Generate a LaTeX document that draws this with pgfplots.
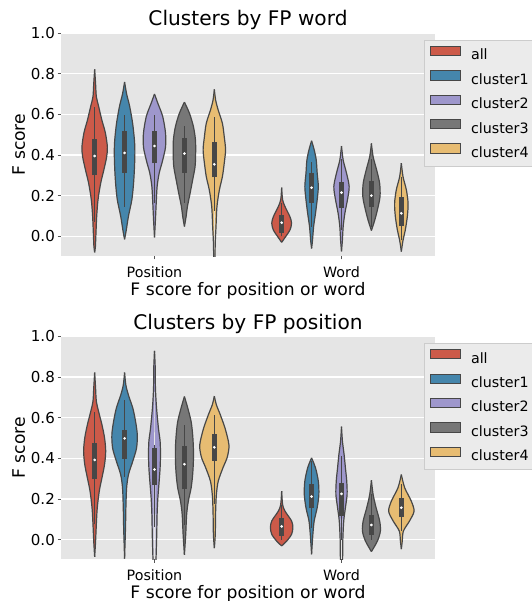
\documentclass[border=0pt]{standalone}
\usepackage{pgfplots}
\pgfplotsset{compat=1.18}
\usepackage{pgfplotstable}
\usepgfplotslibrary{fillbetween}
\usepackage{fontspec}
\setmainfont{DejaVu Sans}

\definecolor{cRed}{HTML}{CC5A49}
\definecolor{cBlue}{HTML}{4586AC}
\definecolor{cPurp}{HTML}{9E97CC}
\definecolor{cGray}{HTML}{777777}
\definecolor{cYel}{HTML}{E7BC72}
\definecolor{vedge}{HTML}{474747}
\definecolor{bgray}{HTML}{E5E5E5}
\definecolor{legfill}{HTML}{EBEBEB}
\definecolor{legedge}{HTML}{CCCCCC}
\definecolor{tickgray}{HTML}{555555}

% ---------- top chart: Clusters by FP word ----------
\pgfplotstableread[row sep=\\]{y w\\ -0.079 0\\ -0.05 0.004\\ 0.015 0.007\\ 0.10 0.011\\ 0.18 0.018\\ 0.26 0.032\\ 0.33 0.050\\ 0.39 0.064\\ 0.44 0.068\\ 0.51 0.057\\ 0.57 0.039\\ 0.64 0.021\\ 0.687 0.009\\ 0.75 0.005\\ 0.821 0\\}\tAa
\pgfplotstableread[row sep=\\]{y w\\ -0.015 0\\ 0.03 0.009\\ 0.10 0.021\\ 0.18 0.039\\ 0.26 0.048\\ 0.34 0.053\\ 0.41 0.055\\ 0.47 0.053\\ 0.556 0.043\\ 0.64 0.027\\ 0.70 0.011\\ 0.759 0\\}\tAb
\pgfplotstableread[row sep=\\]{y w\\ -0.005 0\\ 0.08 0.005\\ 0.16 0.009\\ 0.244 0.014\\ 0.31 0.025\\ 0.375 0.044\\ 0.44 0.059\\ 0.507 0.059\\ 0.589 0.044\\ 0.654 0.018\\ 0.70 0\\}\tAc
\pgfplotstableread[row sep=\\]{y w\\ 0.048 0\\ 0.097 0.009\\ 0.146 0.016\\ 0.21 0.030\\ 0.277 0.044\\ 0.343 0.057\\ 0.408 0.060\\ 0.474 0.059\\ 0.54 0.048\\ 0.605 0.027\\ 0.66 0\\}\tAd
\pgfplotstableread[row sep=\\]{y w\\ -0.12 0.003\\ -0.03 0.005\\ 0.048 0.009\\ 0.146 0.014\\ 0.228 0.027\\ 0.293 0.043\\ 0.36 0.053\\ 0.425 0.060\\ 0.49 0.053\\ 0.556 0.043\\ 0.62 0.021\\ 0.67 0.007\\ 0.723 0\\}\tAe
\pgfplotstableread[row sep=\\]{y w\\ -0.03 0\\ -0.002 0.021\\ 0.03 0.044\\ 0.064 0.053\\ 0.097 0.044\\ 0.146 0.018\\ 0.18 0.005\\ 0.239 0\\}\tBa
\pgfplotstableread[row sep=\\]{y w\\ -0.06 0\\ -0.02 0.005\\ 0.048 0.011\\ 0.113 0.021\\ 0.18 0.030\\ 0.244 0.036\\ 0.31 0.030\\ 0.375 0.025\\ 0.425 0.014\\ 0.47 0\\}\tBb
\pgfplotstableread[row sep=\\]{y w\\ -0.074 0\\ -0.018 0.005\\ 0.048 0.009\\ 0.113 0.018\\ 0.18 0.032\\ 0.244 0.041\\ 0.31 0.027\\ 0.375 0.009\\ 0.444 0\\}\tBc
\pgfplotstableread[row sep=\\]{y w\\ 0.028 0\\ 0.08 0.018\\ 0.13 0.032\\ 0.195 0.046\\ 0.26 0.044\\ 0.326 0.028\\ 0.392 0.009\\ 0.457 0\\}\tBd
\pgfplotstableread[row sep=\\]{y w\\ -0.075 0\\ -0.02 0.009\\ 0.03 0.021\\ 0.097 0.032\\ 0.162 0.036\\ 0.228 0.027\\ 0.293 0.009\\ 0.36 0\\}\tBe

% ---------- bottom chart: Clusters by FP position ----------
\pgfplotstableread[row sep=\\]{y w\\ -0.085 0\\ -0.007 0.005\\ 0.075 0.009\\ 0.157 0.014\\ 0.24 0.025\\ 0.304 0.039\\ 0.37 0.053\\ 0.435 0.059\\ 0.5 0.053\\ 0.565 0.039\\ 0.63 0.021\\ 0.68 0.009\\ 0.745 0.005\\ 0.822 0\\}\tCa
\pgfplotstableread[row sep=\\]{y w\\ -0.093 0\\ 0.06 0.005\\ 0.157 0.007\\ 0.255 0.011\\ 0.32 0.021\\ 0.386 0.044\\ 0.45 0.064\\ 0.516 0.068\\ 0.58 0.059\\ 0.647 0.044\\ 0.71 0.021\\ 0.76 0.007\\ 0.822 0\\}\tCb
\pgfplotstableread[row sep=\\]{y w\\ -0.12 0.007\\ -0.07 0.009\\ 0.026 0.012\\ 0.124 0.014\\ 0.206 0.018\\ 0.288 0.025\\ 0.353 0.030\\ 0.418 0.032\\ 0.484 0.030\\ 0.549 0.021\\ 0.647 0.011\\ 0.745 0.005\\ 0.843 0.004\\ 0.928 0\\}\tCc
\pgfplotstableread[row sep=\\]{y w\\ -0.075 0\\ 0.026 0.007\\ 0.124 0.012\\ 0.19 0.021\\ 0.255 0.036\\ 0.32 0.044\\ 0.386 0.048\\ 0.45 0.048\\ 0.516 0.044\\ 0.58 0.036\\ 0.647 0.018\\ 0.704 0\\}\tCd
\pgfplotstableread[row sep=\\]{y w\\ -0.042 0\\ 0.026 0.005\\ 0.14 0.007\\ 0.222 0.011\\ 0.288 0.021\\ 0.353 0.046\\ 0.402 0.068\\ 0.45 0.078\\ 0.484 0.075\\ 0.549 0.057\\ 0.614 0.032\\ 0.663 0.011\\ 0.706 0\\}\tCe
\pgfplotstableread[row sep=\\]{y w\\ -0.031 0\\ -0.007 0.027\\ 0.026 0.053\\ 0.059 0.060\\ 0.092 0.053\\ 0.14 0.018\\ 0.173 0.005\\ 0.239 0\\}\tDa
\pgfplotstableread[row sep=\\]{y w\\ -0.072 0\\ 0.026 0.007\\ 0.092 0.014\\ 0.157 0.030\\ 0.222 0.039\\ 0.288 0.036\\ 0.353 0.021\\ 0.402 0\\}\tDb
\pgfplotstableread[row sep=\\]{y w\\ -0.12 0.006\\ -0.007 0.007\\ 0.092 0.012\\ 0.157 0.021\\ 0.222 0.030\\ 0.288 0.028\\ 0.353 0.021\\ 0.418 0.014\\ 0.484 0.005\\ 0.556 0\\}\tDc
\pgfplotstableread[row sep=\\]{y w\\ -0.059 0\\ -0.007 0.032\\ 0.042 0.048\\ 0.092 0.044\\ 0.157 0.025\\ 0.222 0.009\\ 0.292 0\\}\tDd
\pgfplotstableread[row sep=\\]{y w\\ -0.047 0\\ -0.007 0.005\\ 0.042 0.011\\ 0.092 0.044\\ 0.14 0.068\\ 0.19 0.053\\ 0.255 0.018\\ 0.32 0\\}\tDe

% #1 id, #2 centre, #3 colour, #4 table, #5 whisker low, #6 q1, #7 median, #8 q3, #9 whisker high
\newcommand\violin[9]{%
 \addplot[vedge, line width=0.9pt, smooth, name path=R#1, forget plot] table[x expr={#2+\thisrow{w}}, y=y]{#4};
 \addplot[vedge, line width=0.9pt, smooth, name path=L#1, forget plot] table[x expr={#2-\thisrow{w}}, y=y]{#4};
 \addplot[fill=#3, draw=none, forget plot] fill between[of=R#1 and L#1];
 \addplot[vedge, line width=1pt, forget plot] coordinates {(#2,#5) (#2,#9)};
 \addplot[vedge, line width=3.4pt, forget plot] coordinates {(#2,#6) (#2,#8)};
 \addplot[only marks, mark=*, mark size=0.8pt, draw=white, fill=white, forget plot] coordinates {(#2,#7)};
}

\pgfplotsset{vstyle/.style={
  scale only axis, width=280.5pt, height=167.25pt,
  xmin=-0.5, xmax=1.5, ymin=-0.097, ymax=1.0,
  xtick={0,1}, xticklabels={Position,Word},
  ytick={0,0.2,0.4,0.6,0.8,1.0},
  /pgf/number format/fixed, /pgf/number format/fixed zerofill, /pgf/number format/precision=1,
  /pgf/number format/assume math mode=true,
  axis background/.style={fill=bgray},
  axis line style={draw=none},
  ymajorgrids, major grid style={white, line width=0.9pt},
  tick pos=left, tick align=outside, major tick length=2.6pt,
  tick style={tickgray, line width=0.6pt},
  yticklabel style={font=\fontsize{11.3}{13}\selectfont, anchor=east, inner sep=0pt, xshift=-1.8pt},
  xticklabel style={font=\fontsize{10.7}{12}\selectfont, anchor=base, inner sep=0pt, yshift=-13.5pt},
  title style={font=\fontsize{15.1}{17}\selectfont, at={(axis description cs:0.5,1.028)}, anchor=base, yshift=-5.25pt},
  xlabel style={font=\fontsize{12.9}{15}\selectfont, at={(axis description cs:0.5,-0.175)}, anchor=base},
  ylabel style={font=\fontsize{12.9}{15}\selectfont, at={(axis description cs:-0.0963,0.5)}, anchor=base},
  xlabel={F score for position or word}, ylabel={F score},
  legend style={at={(axis description cs:0.9714,0.969)}, anchor=north west, draw=legedge, fill=legfill,
    font=\fontsize{10.7}{12}\selectfont, inner xsep=3.75pt, inner ysep=4.2pt, row sep=5.25pt,
    nodes={inner sep=0pt, text height=8pt, text depth=2.5pt}, cells={anchor=west}},
  legend image code/.code={\draw[##1] (0pt,0.5pt) rectangle (22.5pt,7.5pt); \path (30.5pt,0pt);},
}}

\newcommand\legendentries{%
 \addlegendimage{fill=cRed, draw=vedge, line width=0.6pt}\addlegendentry{all}
 \addlegendimage{fill=cBlue, draw=vedge, line width=0.6pt}\addlegendentry{cluster1}
 \addlegendimage{fill=cPurp, draw=vedge, line width=0.6pt}\addlegendentry{cluster2}
 \addlegendimage{fill=cGray, draw=vedge, line width=0.6pt}\addlegendentry{cluster3}
 \addlegendimage{fill=cYel, draw=vedge, line width=0.6pt}\addlegendentry{cluster4}
}

\begin{document}
\begin{tikzpicture}
\begin{axis}[vstyle, at={(0pt,0pt)}, anchor=south west, title={Clusters by FP word}]
 \legendentries
 \violin{aa}{-0.32}{cRed}{\tAa}{0.072}{0.30}{0.395}{0.477}{0.634}
 \violin{ab}{-0.16}{cBlue}{\tAb}{0.143}{0.313}{0.41}{0.518}{0.597}
 \violin{ac}{0}{cPurp}{\tAc}{0.162}{0.359}{0.444}{0.518}{0.597}
 \violin{ad}{0.16}{cGray}{\tAd}{0.166}{0.313}{0.407}{0.482}{0.543}
 \violin{ae}{0.32}{cYel}{\tAe}{0.126}{0.29}{0.354}{0.464}{0.589}
 \violin{ba}{0.68}{cRed}{\tBa}{0.0}{0.018}{0.067}{0.105}{0.162}
 \violin{bb}{0.84}{cBlue}{\tBb}{0.048}{0.166}{0.239}{0.313}{0.364}
 \violin{bc}{1.0}{cPurp}{\tBc}{0.031}{0.138}{0.215}{0.269}{0.38}
 \violin{bd}{1.16}{cGray}{\tBd}{0.048}{0.143}{0.2}{0.272}{0.38}
 \violin{be}{1.32}{cYel}{\tBe}{-0.02}{0.05}{0.113}{0.195}{0.293}
\end{axis}
\begin{axis}[vstyle, at={(0pt,-227.5pt)}, anchor=south west, title={Clusters by FP position}]
 \legendentries
 \violin{ca}{-0.32}{cRed}{\tCa}{0.075}{0.296}{0.392}{0.475}{0.63}
 \violin{cb}{-0.16}{cBlue}{\tCb}{0.309}{0.397}{0.498}{0.538}{0.688}
 \violin{cc}{0}{cPurp}{\tCc}{0.062}{0.27}{0.345}{0.45}{0.467}
 \violin{cd}{0.16}{cGray}{\tCd}{0.07}{0.247}{0.371}{0.462}{0.562}
 \violin{ce}{0.32}{cYel}{\tCe}{0.176}{0.389}{0.454}{0.521}{0.614}
 \violin{da}{0.68}{cRed}{\tDa}{0.0}{0.018}{0.065}{0.105}{0.17}
 \violin{db}{0.84}{cBlue}{\tDb}{0.059}{0.154}{0.212}{0.275}{0.386}
 \violin{dc}{1.0}{cPurp}{\tDc}{0.0}{0.116}{0.225}{0.279}{0.41}
 \violin{dd}{1.16}{cGray}{\tDd}{0.0}{0.023}{0.072}{0.119}{0.222}
 \violin{de}{1.32}{cYel}{\tDe}{0.042}{0.111}{0.157}{0.206}{0.275}
\end{axis}
\pgfresetboundingbox
\path[use as bounding box] (-45.75pt,-258.75pt) rectangle (353.25pt,192pt);
\end{tikzpicture}
\end{document}
